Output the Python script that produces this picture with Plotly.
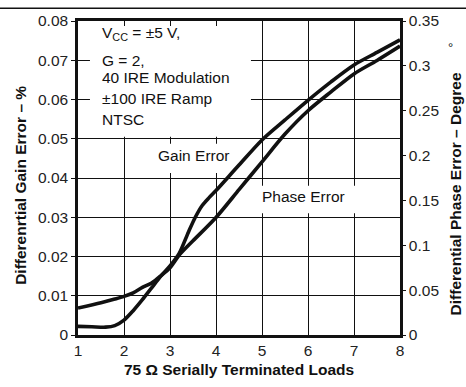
import plotly.graph_objects as go

# Number of 75-ohm serially terminated loads
loads_gain = [1.0, 1.3, 1.6, 1.8, 2.0, 2.2, 2.4, 2.6, 2.8, 3.0, 3.2, 3.4, 3.55,
              3.7, 3.85, 4.0, 4.5, 5.0, 5.5, 6.0, 6.5, 7.0, 7.5, 8.0]
# Differential gain error, %
gain_error = [0.0022, 0.0021, 0.0020, 0.0024, 0.0038, 0.0062, 0.0090, 0.0120,
              0.0150, 0.0176, 0.0208, 0.0262, 0.0300, 0.0330, 0.0350, 0.0368,
              0.0433, 0.0497, 0.0548, 0.0598, 0.0645, 0.0688, 0.0720, 0.0752]

loads_phase = [1.0, 1.5, 1.8, 2.0, 2.2, 2.4, 2.6, 2.8, 3.0, 3.2, 3.5, 4.0, 4.5,
               5.0, 5.5, 6.0, 6.5, 7.0, 7.5, 8.0]
# Differential phase error, degrees
phase_error = [0.030, 0.036, 0.040, 0.043, 0.047, 0.053, 0.058, 0.066, 0.075,
               0.089, 0.105, 0.131, 0.162, 0.193, 0.224, 0.250, 0.271, 0.291,
               0.306, 0.322]

x_ticks = [1, 2, 3, 4, 5, 6, 7, 8]
gain_ticks = [0, 0.01, 0.02, 0.03, 0.04, 0.05, 0.06, 0.07, 0.08]
gain_tick_text = ["0", "0.01", "0.02", "0.03", "0.04", "0.05", "0.06", "0.07", "0.08"]
phase_ticks = [0, 0.05, 0.1, 0.15, 0.2, 0.25, 0.3, 0.35]
phase_tick_text = ["0", "0.05", "0.1", "0.15", "0.2", "0.25", "0.3", "0.35"]

conditions = ["V<sub>CC</sub> = ±5 V,", "G = 2,", "40 IRE Modulation",
              "±100 IRE Ramp", "NTSC"]

FONT = "Liberation Sans, Arial, sans-serif"
INK = "#111111"

fig = go.Figure()
fig.add_trace(go.Scatter(x=loads_gain, y=gain_error, mode="lines",
                         line=dict(color=INK, width=3.6, shape="spline", smoothing=0.8),
                         name="Gain Error", yaxis="y"))
fig.add_trace(go.Scatter(x=loads_phase, y=phase_error, mode="lines",
                         line=dict(color=INK, width=3.6, shape="spline", smoothing=0.8),
                         name="Phase Error", yaxis="y2"))

# white backing behind the text blocks (hides the grid, not the curves)
boxes = [(1.26, 4.76, 0.0505, 0.07875),
         (2.565, 4.52, 0.04125, 0.04875),
         (4.78, 7.89, 0.031, 0.038)]
for x0, x1, y0, y1 in boxes:
    fig.add_shape(type="rect", xref="x", yref="y", x0=x0, x1=x1, y0=y0, y1=y1,
                  fillcolor="white", line=dict(width=0), layer="between")

# rule across the top of the page
fig.add_shape(type="line", xref="paper", yref="paper", x0=-78 / 322, x1=1 + 66 / 322,
              y0=1.0406, y1=1.0406, line=dict(color=INK, width=1.5))

cond_y = [0.0767, 0.0700, 0.0655, 0.06025, 0.0550]
for txt, yy in zip(conditions, cond_y):
    fig.add_annotation(x=1.478, y=yy, xref="x", yref="y", text=txt, showarrow=False,
                       xanchor="left", yanchor="middle",
                       font=dict(family=FONT, size=15.5, color=INK))

fig.add_annotation(x=3.52, y=0.0458, xref="x", yref="y", text="Gain Error",
                   showarrow=False, xanchor="center", yanchor="middle",
                   font=dict(family=FONT, size=15.5, color=INK))
fig.add_annotation(x=5.90, y=0.03525, xref="x", yref="y", text="Phase Error",
                   showarrow=False, xanchor="center", yanchor="middle",
                   font=dict(family=FONT, size=15.5, color=INK))

# axis titles
fig.add_annotation(x=-0.177, y=0.475, xref="paper", yref="paper",
                   text="<b>Differenrtial Gain Error – %</b>", textangle=-90,
                   showarrow=False, xanchor="center", yanchor="middle",
                   font=dict(family=FONT, size=15.5, color=INK))
fig.add_annotation(x=1.171, y=0.448, xref="paper", yref="paper",
                   text="<b>Differential Phase Error – Degree</b>", textangle=-90,
                   showarrow=False, xanchor="center", yanchor="middle",
                   font=dict(family=FONT, size=15.5, color=INK))
fig.add_annotation(x=1.158, y=0.915, xref="paper", yref="paper", text="°",
                   showarrow=False, xanchor="center", yanchor="middle",
                   font=dict(family=FONT, size=13, color=INK))
fig.add_annotation(x=0.5, y=-0.109, xref="paper", yref="paper",
                   text="<b>75 Ω Serially Terminated Loads</b>",
                   showarrow=False, xanchor="center", yanchor="middle",
                   font=dict(family=FONT, size=15.5, color=INK))

grid = dict(showgrid=True, gridcolor="#111111", gridwidth=1.4)
fig.update_layout(
    width=466, height=387,
    margin=dict(l=78, r=66, t=15, b=52),
    paper_bgcolor="white", plot_bgcolor="white",
    showlegend=False,
    font=dict(family=FONT, size=15.5, color=INK),
    xaxis=dict(range=[1, 8], tickvals=x_ticks, ticks="", zeroline=False,
               showline=True, linecolor=INK, linewidth=2.5, mirror=True,
               tickfont=dict(size=15.5, color="#222222"), **grid),
    yaxis=dict(range=[0, 0.08], tickvals=gain_ticks, ticktext=gain_tick_text,
               ticks="outside", ticklen=4, tickcolor=INK, zeroline=False,
               showline=True, linecolor=INK, linewidth=2.5, mirror=True,
               tickfont=dict(size=15.5, color="#222222"), **grid),
    yaxis2=dict(range=[0, 0.35], tickvals=phase_ticks, ticktext=phase_tick_text,
                overlaying="y", side="right", showgrid=False, zeroline=False,
                ticks="outside", ticklen=3, tickcolor=INK,
                showline=True, linecolor=INK, linewidth=2.5,
                tickfont=dict(size=15.5, color="#222222")),
)

fig.write_html("out.html")
